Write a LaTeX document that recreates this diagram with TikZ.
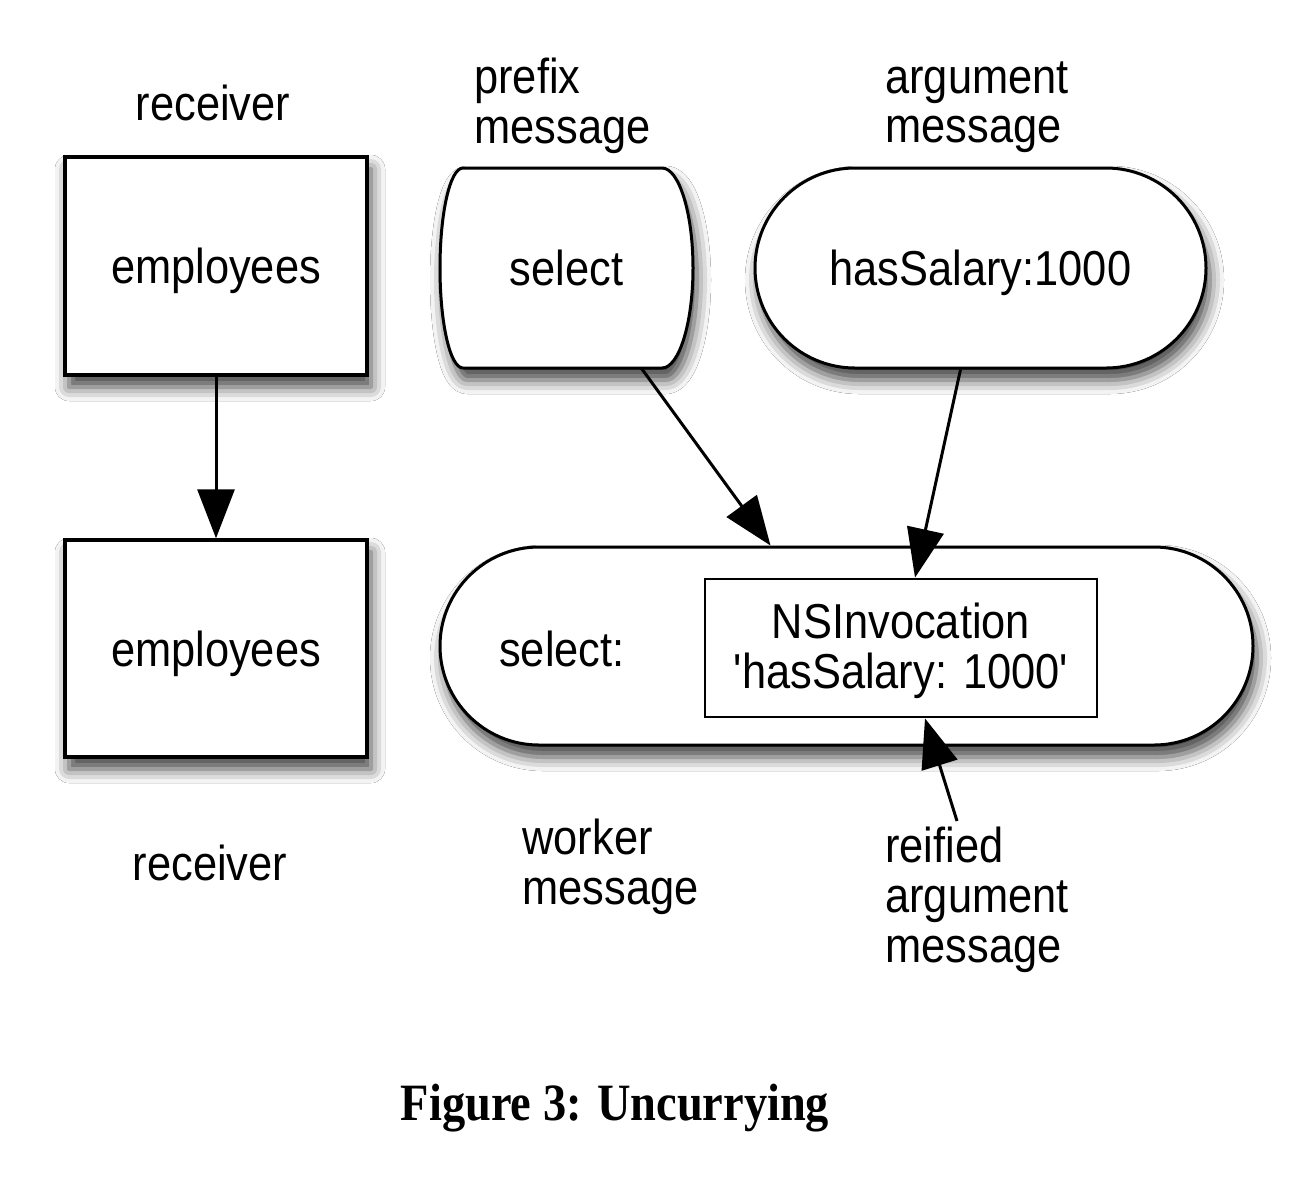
\documentclass[tikz,border=0pt]{standalone}
\usepackage{fontspec}
\setmainfont{Liberation Sans}
\newfontfamily\capfont{Liberation Serif}
\usepackage{graphicx}
\usetikzlibrary{arrows.meta,shadows.blur}
\newcommand{\vst}[1]{\scalebox{1}[1.13]{#1}}
\newcommand{\vsd}[1]{\raisebox{-2.5pt}[\height][\depth]{\scalebox{1}[1.13]{#1}}}
\newcommand{\twol}[2]{\vst{\begin{tabular}{@{}l@{}}#1\\#2\end{tabular}}}
\begin{document}
\begin{tikzpicture}[x=0.5pt,y=-0.5pt,
  every node/.style={font=\fontsize{21.7}{22.1}\selectfont, inner sep=0pt},
  shd/.style={blur shadow={shadow xshift=2pt, shadow yshift=-6pt, shadow blur radius=7pt, shadow opacity=75}},
  boxn/.style={draw, line width=1.7pt, fill=white, minimum width=151pt, shd},
  pill/.style={draw, line width=1.5pt, fill=white, rounded corners=#1, shd},
  arr/.style={line width=1.5pt, draw=black, fill=black, opacity=1, draw opacity=1, fill opacity=1,
    -{Triangle[length=24.5pt,width=18.5pt]}},
  lbl/.style={anchor=west, align=left}]
\fill[white] (0,0) rectangle (1306,1180);
\useasboundingbox (0,0) rectangle (1306,1180);
% left column
\node (rec1) at (213,103) {\vst{receiver}};
\node[boxn, minimum height=109pt] (emp1) at (216,266) {\vsd{employees}};
\node[boxn, minimum height=108.5pt] (emp2) at (216,648.5) {\vsd{employees}};
\node (rec2) at (210,863) {\vst{receiver}};
% prefix message
\path[draw, line width=1.5pt, fill=white, shd] (463,168) -- (662,168)
  .. controls (679,168) and (693,213) .. (693,268)
  .. controls (693,323) and (679,368) .. (662,368) -- (463,368)
  .. controls (450,368) and (440,323) .. (440,268)
  .. controls (440,213) and (450,168) .. (463,168) -- cycle;
\node[minimum width=126.5pt, minimum height=100pt] (sel) at (566.5,268) {\vst{select}};
\node[lbl] (pre) at (474,108) {\twol{prefix}{message}};
% argument message
\node[pill=50pt, minimum width=225.5pt, minimum height=100pt] (arg) at (980.5,268) {\vsd{hasSalary:1000}};
\node[lbl] (argl) at (885,108) {\twol{argument}{message}};
% worker message
\node[pill=49.5pt, minimum width=406.5pt, minimum height=99pt] (wrk) at (846.5,646) {};
\node (wsel) at (562,649) {\vst{select:}};
\node[draw, line width=1.4pt, fill=white, minimum width=196pt, minimum height=69pt] (inv) at (901,648)
  {\vsd{\begin{tabular}{@{}c@{}}NSInvocation\\\textquotesingle hasSalary: 1000\textquotesingle\end{tabular}}};
\node[lbl] (wl) at (522,869) {\twol{worker}{message}};
\node[lbl] (rl) at (885,902) {\vst{\begin{tabular}{@{}l@{}}reified\\argument\\message\end{tabular}}};
\coordinate (rs) at (957,821);
% connectors
\draw[arr] (emp1) -- (emp2);
\draw[arr] ([xshift=37.5pt]sel.south) -- ([xshift=-38pt]wrk.north);
\draw[arr] ([xshift=-10pt]arg.south) -- ([xshift=7pt]inv.north);
\draw[arr] (rs) -- ([xshift=12pt]inv.south);
% caption
\node[font=\capfont\bfseries\fontsize{23.2}{27}\selectfont] (cap) at (615,1108) {\vst{Figure 3: Uncurrying}};
\end{tikzpicture}
\end{document}
